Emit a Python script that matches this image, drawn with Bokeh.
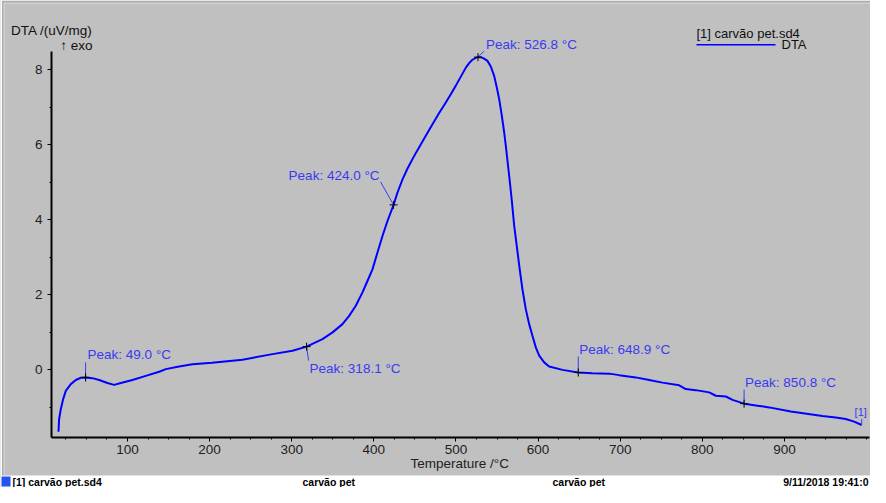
from bokeh.plotting import figure
from bokeh.models import Range1d, Label, BoxAnnotation, FixedTicker
from bokeh.embed import file_html
from bokeh.resources import INLINE

# ---------------- data ----------------
temperature = [16.0, 16.8, 18.8, 21.7, 24.9, 31.0, 37.1, 43.2, 49.3, 57.4,
               65.5, 75.6, 83.8, 91.9, 106.1, 122.3, 138.6, 146.7, 162.9, 179.1,
               203.0, 240.0, 276.6, 300.9, 318.1, 337.4, 349.7, 361.8, 369.9, 378.0,
               386.0, 392.2, 398.3, 404.4, 410.5, 416.6, 424.0, 428.8, 434.9, 441.0,
               447.0, 453.1, 459.2, 465.0, 471.4, 479.5, 487.6, 493.7, 499.8, 505.9,
               512.0, 516.0, 520.0, 524.1, 526.8, 530.0, 534.3, 538.3, 542.4, 546.5,
               549.7, 552.6, 555.8, 558.7, 560.6, 564.8, 568.0, 570.9, 574.0, 577.0,
               580.9, 585.0, 589.1, 593.1, 597.2, 601.3, 607.4, 613.4, 629.7, 648.9,
               666.2, 686.5, 698.7, 718.9, 735.2, 751.4, 771.8, 779.8, 792.0, 808.3,
               816.4, 828.6, 836.7, 850.9, 869.2, 881.3, 907.7, 946.2, 962.4, 974.5,
               984.8, 994.0]
dta = [-1.66, -1.32, -1.06, -0.79, -0.57, -0.39, -0.28, -0.22, -0.21, -0.23,
       -0.28, -0.36, -0.41, -0.36, -0.28, -0.17, -0.06, 0.01, 0.08, 0.14,
       0.18, 0.26, 0.41, 0.50, 0.61, 0.81, 0.99, 1.21, 1.43, 1.70,
       2.05, 2.36, 2.67, 3.12, 3.56, 3.96, 4.39, 4.72, 5.07, 5.36,
       5.61, 5.85, 6.08, 6.30, 6.54, 6.84, 7.12, 7.34, 7.57, 7.81,
       8.05, 8.17, 8.26, 8.31, 8.33, 8.33, 8.29, 8.23, 8.08, 7.83,
       7.52, 7.21, 6.77, 6.32, 5.98, 5.16, 4.50, 3.83, 3.30, 2.77,
       2.14, 1.61, 1.21, 0.90, 0.59, 0.37, 0.19, 0.08, -0.01, -0.08,
       -0.10, -0.11, -0.15, -0.21, -0.28, -0.35, -0.42, -0.52, -0.55, -0.61,
       -0.70, -0.72, -0.81, -0.91, -0.97, -1.01, -1.12, -1.24, -1.28, -1.32,
       -1.39, -1.48]

peak_T = [49.0, 318.1, 424.0, 526.8, 648.9, 850.8]
peak_V = [-0.21, 0.61, 4.39, 8.33, -0.08, -0.91]
peak_text = ["Peak: 49.0 °C", "Peak: 318.1 °C", "Peak: 424.0 °C",
             "Peak: 526.8 °C", "Peak: 648.9 °C", "Peak: 850.8 °C"]

x_ticks = [100, 200, 300, 400, 500, 600, 700, 800, 900]
x_minor = [25, 50, 75, 125, 150, 175, 225, 250, 275, 325, 350, 375, 425, 450, 475,
           525, 550, 575, 625, 650, 675, 725, 750, 775, 825, 850, 875, 925, 950, 975, 1000]
y_ticks = [0, 2, 4, 6, 8]
y_minor = [-1, 1, 3, 5, 7]

y_title = "DTA /(uV/mg)"
exo_text = "↑ exo"
x_title = "Temperature /°C"
legend_title = "[1] carvão pet.sd4"
legend_item = "DTA"
end_tag = "[1]"
status_texts = ["[1] carvão pet.sd4", "carvão pet", "carvão pet", "9/11/2018 19:41:0"]

# ---------------- style / layout ----------------
FONT = "Liberation Sans"
GRAY = "#c0c0c0"
PEAK_COL = "#3a3af2"
X0, X1 = 7.5, 1003.5        # axis extent (data)
Y0, Y1 = -1.813, 8.48
W, H = 870, 487
AL, AT, AR, AB = 51, 51, 869, 437   # axis box inside the canvas (px)
pxT = (AR - AL) / (X1 - X0)
pxV = (AB - AT) / (Y1 - Y0)
XS = X0 - AL / pxT
XE = XS + W / pxT
YE = Y1 + AT / pxV
YS = YE - H / pxV

p = figure(width=W, height=H, x_range=Range1d(XS, XE), y_range=Range1d(YS, YE),
           output_backend="svg", toolbar_location=None,
           min_border_left=0, min_border_right=0, min_border_top=0, min_border_bottom=0)
p.background_fill_color = GRAY
p.border_fill_color = GRAY
p.outline_line_color = None
p.grid.visible = False

p.xaxis.fixed_location = Y0
p.yaxis.fixed_location = X0
for ax in (p.xaxis[0], p.yaxis[0]):
    ax.axis_line_color = None
    ax.major_tick_line_color = "black"
    ax.minor_tick_line_color = "black"
    ax.major_tick_in = 0
    ax.minor_tick_in = 0
    ax.major_tick_out = 4
    ax.minor_tick_out = 2
    ax.major_label_text_font = FONT
    ax.major_label_text_font_size = "13.5px"
    ax.major_label_text_color = "#202020"
p.xaxis.ticker = FixedTicker(ticks=x_ticks, minor_ticks=x_minor)
p.yaxis.ticker = FixedTicker(ticks=y_ticks, minor_ticks=y_minor)
p.xaxis.major_label_standoff = 3
p.yaxis.major_label_standoff = 5

# axis lines (only over the axis extent)
p.segment([X0, X0], [Y0, Y0], [X1, X0], [Y0, Y1], line_color="black", line_width=2)

# curve
p.line(temperature, dta, line_color="#0000ff", line_width=2)

# peak markers, leaders and labels
label_off = [(2, 23, "left"), (3, -22, "left"), (-14, 29, "right"),
             (8, 13, "left"), (1, 23, "left"), (1, 21, "left")]
leader = [((0, -4), (0, 15)), ((0, 0), (2, -14)), ((0, 0), (-13, 23)),
          ((0, 0), (6, 6)), ((0, 0), (0, 16)), ((0, 0), (0, 14))]
x0s, y0s, x1s, y1s = [], [], [], []
for t, v, (a, b) in zip(peak_T, peak_V, leader):
    x0s.append(t + a[0] / pxT); y0s.append(v + a[1] / pxV)
    x1s.append(t + b[0] / pxT); y1s.append(v + b[1] / pxV)
x0s.append(temperature[-1]); y0s.append(dta[-1])
x1s.append(temperature[-1]); y1s.append(dta[-1] + 6 / pxV)
p.segment(x0s, y0s, x1s, y1s, line_color=PEAK_COL, line_width=1)
p.scatter(peak_T, peak_V, marker="cross", size=8, line_color="black", line_width=1)

for t, v, txt, (dx, dy, al) in zip(peak_T, peak_V, peak_text, label_off):
    p.add_layout(Label(x=t, y=v, x_offset=dx, y_offset=dy, text=txt, text_align=al,
                       text_baseline="middle", text_font=FONT, text_font_size="13.5px",
                       text_color=PEAK_COL))
p.add_layout(Label(x=temperature[-1], y=dta[-1], x_offset=-1, y_offset=13, text=end_tag,
                   text_align="center", text_baseline="middle", text_font=FONT,
                   text_font_size="11px", text_color=PEAK_COL))


# screen helpers: window pixel -> screen units (frame == whole canvas, y from bottom)
def sx(wx):
    return wx - 8


def sy(wy):
    return H - (wy - 8)


def box(l, r, t, b, color):
    p.add_layout(BoxAnnotation(left=sx(l), right=sx(r), top=sy(t), bottom=sy(b),
                               left_units="screen", right_units="screen",
                               top_units="screen", bottom_units="screen",
                               fill_color=color, fill_alpha=1, line_color=None))


def text(wx, wy, s, align="left", size="13.5px", style="normal", color="#000000"):
    p.add_layout(Label(x=sx(wx), y=sy(wy), x_units="screen", y_units="screen", text=s,
                       text_align=align, text_baseline="middle", text_font=FONT,
                       text_font_size=size, text_font_style=style, text_color=color))


# window frame edges
box(8, 878, 8, 9, "white")
box(8, 10, 8, 483, "white")
box(10, 878, 9, 10, "#7a7a7a")
box(10, 11, 9, 483, "#7a7a7a")
box(11, 878, 10, 11, "#e0e0e0")
box(11, 12, 10, 482, "#e0e0e0")
# status bar
box(8, 878, 483, 495, "white")
box(9, 18, 484, 494, "#2255ee")

# axis titles
text(100, 38, y_title, align="right", color="#101010")
text(100, 53, exo_text, align="right", color="#101010")
text(418, 471, x_title, color="#202020")

# legend
text(704, 41, legend_title, size="13px", color="#101010")
box(704, 783, 51.5, 53, "#0000ff")
text(789, 52, legend_item, size="13px", color="#101010")

# status bar texts
text(20, 489, status_texts[0], size="10.5px", style="bold")
text(310, 489, status_texts[1], size="10.5px", style="bold")
text(560, 489, status_texts[2], size="10.5px", style="bold")
text(876, 489, status_texts[3], align="right", size="10.5px", style="bold")

open("out.html", "w").write(file_html(p, INLINE))
